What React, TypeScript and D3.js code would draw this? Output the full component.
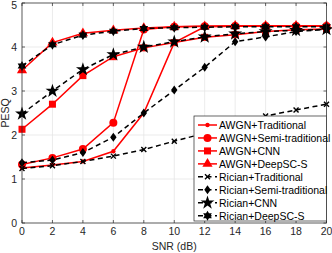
import React from "react";
import * as d3 from "d3";

const snr = [0, 2, 4, 6, 8, 10, 12, 14, 16, 18, 20];

const awgnTraditional = [1.25, 1.32, 1.4, 1.63, 2.5, 4.1, 4.46, 4.47, 4.48, 4.48, 4.48];
const awgnSemi = [1.33, 1.48, 1.68, 2.28, 4.4, 4.46, 4.47, 4.48, 4.48, 4.48, 4.48];
const awgnCnn = [2.13, 2.7, 3.35, 3.78, 3.98, 4.1, 4.22, 4.28, 4.35, 4.39, 4.41];
const awgnDeep = [3.47, 4.1, 4.31, 4.38, 4.43, 4.46, 4.47, 4.48, 4.48, 4.48, 4.48];
const ricianTraditional = [1.24, 1.3, 1.4, 1.52, 1.67, 1.86, 2.04, 2.24, 2.43, 2.57, 2.7];
const ricianSemi = [1.37, 1.43, 1.6, 1.95, 2.5, 3.02, 3.54, 4.12, 4.23, 4.35, 4.4];
const ricianCnn = [2.48, 3.0, 3.49, 3.83, 4.0, 4.12, 4.23, 4.3, 4.35, 4.38, 4.4];
const ricianDeep = [3.57, 4.05, 4.27, 4.36, 4.42, 4.44, 4.45, 4.46, 4.46, 4.46, 4.46];

const xTicks = [0, 2, 4, 6, 8, 10, 12, 14, 16, 18, 20];
const yTicks = [0, 1, 2, 3, 4, 5];

type Marker = "dot" | "circle" | "square" | "triangle" | "x" | "diamond" | "star" | "hexagram";

const series: { name: string; values: number[]; color: string; dashed: boolean; marker: Marker }[] = [
  { name: "AWGN+Traditional", values: awgnTraditional, color: "#ff0000", dashed: false, marker: "dot" },
  { name: "AWGN+Semi-traditional", values: awgnSemi, color: "#ff0000", dashed: false, marker: "circle" },
  { name: "AWGN+CNN", values: awgnCnn, color: "#ff0000", dashed: false, marker: "square" },
  { name: "AWGN+DeepSC-S", values: awgnDeep, color: "#ff0000", dashed: false, marker: "triangle" },
  { name: "Rician+Traditional", values: ricianTraditional, color: "#000000", dashed: true, marker: "x" },
  { name: "Rician+Semi-traditional", values: ricianSemi, color: "#000000", dashed: true, marker: "diamond" },
  { name: "Rician+CNN", values: ricianCnn, color: "#000000", dashed: true, marker: "star" },
  { name: "Rician+DeepSC-S", values: ricianDeep, color: "#000000", dashed: true, marker: "hexagram" },
];

const hexagram = (r: number) => {
  const pts: string[] = [];
  for (let i = 0; i < 12; i++) {
    const a = (Math.PI / 6) * i - Math.PI / 2;
    const rr = i % 2 === 0 ? r : r * 0.58;
    pts.push(`${(rr * Math.cos(a)).toFixed(2)},${(rr * Math.sin(a)).toFixed(2)}`);
  }
  return "M" + pts.join("L") + "Z";
};

const MarkerShape = ({ type, color, x, y }: { type: Marker; color: string; x: number; y: number }) => {
  const t = `translate(${x},${y})`;
  switch (type) {
    case "dot":
      return <circle cx={x} cy={y} r={2.2} fill={color} />;
    case "circle":
      return <circle cx={x} cy={y} r={4} fill={color} />;
    case "square":
      return <rect x={x - 3.5} y={y - 3.5} width={7} height={7} fill={color} />;
    case "triangle":
      return <path transform={t} d={d3.symbol(d3.symbolTriangle, 45)()!} fill={color} />;
    case "x":
      return <path transform={t} d="M-2.5,-2.5L2.5,2.5M-2.5,2.5L2.5,-2.5" stroke={color} strokeWidth={1.4} fill="none" />;
    case "diamond":
      return <path transform={t} d="M0,-4.5L3.2,0L0,4.5L-3.2,0Z" fill={color} />;
    case "star":
      return <path transform={t} d={d3.symbol(d3.symbolStar, 60)()!} fill={color} />;
    case "hexagram":
      return <path transform={t} d={hexagram(5)} fill={color} />;
  }
};

export default function App() {
  const width = 332;
  const height = 253;
  const left = 22;
  const right = 326.5;
  const top = 3;
  const bottom = 223;

  const x = d3.scaleLinear().domain([0, 20]).range([left, right]);
  const y = d3.scaleLinear().domain([0, 5]).range([bottom, top]);
  const line = d3
    .line<number>()
    .x((_, i) => x(snr[i]))
    .y((d) => y(d));

  const font = "'Liberation Sans', Arial, sans-serif";
  const axisColor = "#262626";

  // legend box
  const lgX = 194;
  const lgY = 116;
  const lgW = right - lgX;
  const rowH = 12.96;
  const lgH = bottom - 2 - lgY;

  return (
    <svg
      width={width}
      height={height}
      style={{ position: "absolute", left: 0, top: 0, background: "white" }}
      fontFamily={font}
    >
      {/* grid */}
      {xTicks.map((t) => (
        <line key={"gx" + t} x1={x(t)} x2={x(t)} y1={top} y2={bottom} stroke="#e6e6e6" strokeWidth={0.8} />
      ))}
      {yTicks.map((t) => (
        <line key={"gy" + t} x1={left} x2={right} y1={y(t)} y2={y(t)} stroke="#e6e6e6" strokeWidth={0.8} />
      ))}

      {/* series */}
      {series.map((s) => (
        <g key={s.name}>
          <path
            d={line(s.values)!}
            fill="none"
            stroke={s.color}
            strokeWidth={1.5}
            strokeDasharray={s.dashed ? "5,3.5" : undefined}
          />
          {s.values.map((v, i) => (
            <MarkerShape key={i} type={s.marker} color={s.color} x={x(snr[i])} y={y(v)} />
          ))}
        </g>
      ))}

      {/* axes box */}
      <rect x={left} y={top} width={right - left} height={bottom - top} fill="none" stroke={axisColor} strokeWidth={0.7} />
      {xTicks.map((t) => (
        <g key={"tx" + t}>
          <line x1={x(t)} x2={x(t)} y1={bottom} y2={bottom - 3} stroke={axisColor} strokeWidth={0.7} />
          <line x1={x(t)} x2={x(t)} y1={top} y2={top + 3} stroke={axisColor} strokeWidth={0.7} />
          <text x={x(t)} y={bottom + 12} textAnchor="middle" fontSize={10.5} fill={axisColor}>
            {t}
          </text>
        </g>
      ))}
      {yTicks.map((t) => (
        <g key={"ty" + t}>
          <line x1={left} x2={left + 3} y1={y(t)} y2={y(t)} stroke={axisColor} strokeWidth={0.7} />
          <line x1={right} x2={right - 3} y1={y(t)} y2={y(t)} stroke={axisColor} strokeWidth={0.7} />
          <text x={left - 5} y={Math.max(y(t) + 3.8, 9)} textAnchor="end" fontSize={10.5} fill={axisColor}>
            {t}
          </text>
        </g>
      ))}
      <text x={(left + right) / 2} y={250} textAnchor="middle" fontSize={10.5} fill={axisColor}>
        SNR (dB)
      </text>
      <text
        transform={`translate(8.5,${(top + bottom) / 2}) rotate(-90)`}
        textAnchor="middle"
        fontSize={10.5}
        fill={axisColor}
      >
        PESQ
      </text>

      {/* legend */}
      <rect x={lgX} y={lgY} width={lgW} height={lgH} fill="white" stroke={axisColor} strokeWidth={0.7} />
      {series.map((s, i) => {
        const cy = lgY + 9 + i * rowH;
        return (
          <g key={"lg" + s.name}>
            <line
              x1={lgX + 4}
              x2={lgX + 23}
              y1={cy}
              y2={cy}
              stroke={s.color}
              strokeWidth={1.5}
              strokeDasharray={s.dashed ? "5,3.5" : undefined}
            />
            <MarkerShape type={s.marker} color={s.color} x={lgX + 13.5} y={cy} />
            <text x={lgX + 25} y={cy + 3.8} fontSize={10.5} fill="#000" textLength={s.name.length > 20 ? undefined : undefined}>
              {s.name}
            </text>
          </g>
        );
      })}
    </svg>
  );
}
